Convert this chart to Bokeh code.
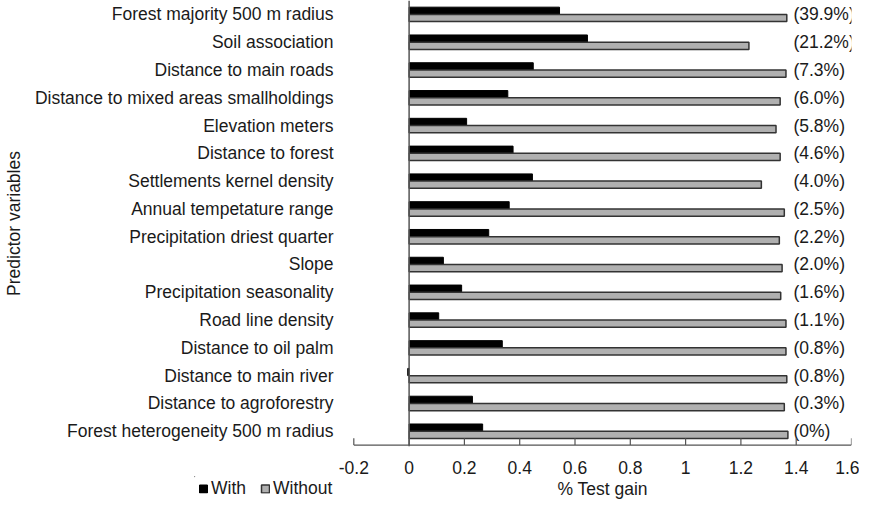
from bokeh.plotting import figure
from bokeh.layouts import column
from bokeh.models import Span, FixedTicker, ColumnDataSource, Legend, Range1d
from bokeh.core.properties import value
from bokeh.embed import file_html
from bokeh.resources import INLINE

categories = [
    "Forest majority 500 m radius",
    "Soil association",
    "Distance to main roads",
    "Distance to mixed areas smallholdings",
    "Elevation meters",
    "Distance to forest",
    "Settlements kernel density",
    "Annual tempetature range",
    "Precipitation driest quarter",
    "Slope",
    "Precipitation seasonality",
    "Road line density",
    "Distance to oil palm",
    "Distance to main river",
    "Distance to agroforestry",
    "Forest heterogeneity 500 m radius",
]
with_gain = [0.544, 0.645, 0.449, 0.357, 0.208, 0.376, 0.446, 0.362,
             0.288, 0.124, 0.190, 0.107, 0.337, -0.005, 0.229, 0.266]
without_gain = [1.366, 1.229, 1.363, 1.342, 1.327, 1.342, 1.274, 1.357,
                1.339, 1.349, 1.344, 1.363, 1.363, 1.366, 1.357, 1.370]
contrib = ["(39.9%)", "(21.2%)", "(7.3%)", "(6.0%)", "(5.8%)", "(4.6%)",
           "(4.0%)", "(2.5%)", "(2.2%)", "(2.0%)", "(1.6%)", "(1.1%)",
           "(0.8%)", "(0.8%)", "(0.3%)", "(0%)"]
series_names = ["With", "Without"]
x_ticks = [-0.2, 0, 0.2, 0.4, 0.6, 0.8, 1, 1.2, 1.4, 1.6]
x_tick_labels = ["-0.2", "0", "0.2", "0.4", "0.6", "0.8", "1", "1.2", "1.4", "1.6"]
x_title = "% Test gain"
y_title = "Predictor variables"

FONT = "Liberation Sans"
FS = "17.5px"
TXT = "#1a1a1a"
AXIS_COLOR = "#555555"

# layout (pixels)
W = 859
BL, BR = 187, 8          # frame spans the legend column too
FRAME_W = W - BL - BR
AXIS_START_PX = 161      # where -0.2 sits, measured from the frame's left edge
X_LO, X_HI = x_ticks[0], x_ticks[-1]
frac = AXIS_START_PX / FRAME_W
x_start = (X_LO - frac * X_HI) / (1 - frac)

n = len(categories)
rows = [n - 1 - i for i in range(n)]          # first category on top
OFF, BAR_H = 0.13, 0.26
BASE = -0.5                                  # bottom edge of the last row
TICK_LEN = 0.25                              # in row units (about 7 px)

WITH_STYLE = dict(fill_color="black", line_color="black", line_width=1)
WITHOUT_STYLE = dict(fill_color="#b0b0b0", line_color="#333333", line_width=1.5)

src = ColumnDataSource(dict(
    row=rows,
    yw=[r + OFF for r in rows],
    ywo=[r - OFF for r in rows],
    w=with_gain, wo=without_gain, lab=contrib,
    lx=[1.39] * n))

xr = Range1d(x_start, X_HI)
p = figure(width=W, height=476, output_backend="svg", toolbar_location=None,
           y_range=Range1d(BASE - 0.05, n - 0.5), x_range=xr,
           min_border_left=BL, min_border_right=BR, min_border_top=0,
           min_border_bottom=0)
p.outline_line_color = None
p.xgrid.grid_line_color = None
p.ygrid.grid_line_color = None

p.hbar(y="yw", right="w", left=0, height=BAR_H, source=src, **WITH_STYLE)
p.hbar(y="ywo", right="wo", left=0, height=BAR_H, source=src, **WITHOUT_STYLE)

p.text(x="lx", y="row", text="lab", source=src, text_font=value(FONT),
       text_font_size=FS, text_baseline="middle", text_align="left",
       text_color=TXT)

p.add_layout(Span(location=0, dimension="height", line_color=AXIS_COLOR, line_width=1.5))

# x axis baseline over -0.2 .. 1.6 with inward ticks
p.segment(x0=[X_LO], x1=[X_HI], y0=[BASE], y1=[BASE], line_color=AXIS_COLOR, line_width=1.3)
p.segment(x0=x_ticks, x1=x_ticks, y0=[BASE] * len(x_ticks),
          y1=[BASE + TICK_LEN] * len(x_ticks), line_color=AXIS_COLOR, line_width=1.2)

# x axis labels
p.xaxis.ticker = FixedTicker(ticks=x_ticks)
p.xaxis.major_label_overrides = dict(zip(x_ticks, x_tick_labels))
p.xaxis.axis_line_color = None
p.xaxis.major_tick_line_color = None
p.xaxis.minor_tick_line_color = None
p.xaxis.major_label_standoff = 8
for ax in (p.xaxis, p.yaxis):
    ax.major_label_text_font = FONT
    ax.major_label_text_font_size = FS
    ax.major_label_text_color = TXT
    ax.axis_label_text_font = FONT
    ax.axis_label_text_font_size = FS
    ax.axis_label_text_font_style = "normal"
    ax.axis_label_text_color = TXT

# y axis: category names, ending 16 px left of the -0.2 end of the x axis
p.yaxis.ticker = FixedTicker(ticks=rows)
p.yaxis.major_label_overrides = dict(zip(rows, categories))
p.yaxis.axis_label = y_title
p.yaxis.axis_line_color = None
p.yaxis.major_tick_line_color = None
p.yaxis.minor_tick_line_color = None
p.yaxis.major_label_standoff = -(AXIS_START_PX - 16)
p.yaxis.axis_label_standoff = 8

# bottom strip: legend and x-axis title on one line
q = figure(width=W, height=24, output_backend="svg", toolbar_location=None,
           x_range=xr, y_range=Range1d(0, 1),
           min_border_left=BL, min_border_right=BR, min_border_top=0,
           min_border_bottom=0)
q.axis.visible = False
q.grid.visible = False
q.outline_line_color = None
# legend proxies, kept entirely outside the strip's visible ranges
lw = q.hbar(y=[5], left=[x_start - 2], right=[x_start - 1], height=0.5, **WITH_STYLE)
lwo = q.hbar(y=[5], left=[x_start - 2], right=[x_start - 1], height=0.5, **WITHOUT_STYLE)
q.text(x=[(X_LO + X_HI) / 2], y=[0.5], text=[x_title], text_font=value(FONT),
       text_font_size=FS, text_align="center", text_baseline="middle", text_color=TXT)

lg = Legend(items=[(series_names[0], [lw]), (series_names[1], [lwo])])
lg.orientation = "horizontal"
lg.location = "left"
lg.background_fill_alpha = 0
lg.border_line_color = None
lg.padding = 0
lg.margin = 4
lg.spacing = 14
lg.label_standoff = 3
lg.glyph_width = 10
lg.glyph_height = 10
lg.label_text_font = FONT
lg.label_text_font_size = FS
lg.label_text_color = TXT
q.add_layout(lg)

open("out.html", "w").write(file_html(column(p, q, spacing=0), INLINE))
